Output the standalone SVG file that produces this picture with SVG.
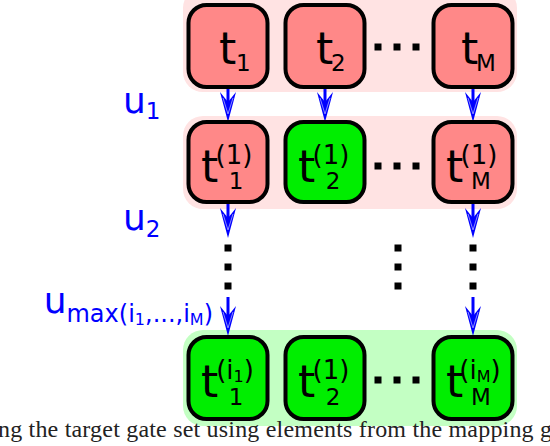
<svg xmlns="http://www.w3.org/2000/svg" xmlns:xlink="http://www.w3.org/1999/xlink" width="550" height="446" viewBox="0 0 550 446">
<style>
.bgp{fill:#ffe3e3}
.bgg{fill:#c3ffc3}
.nd{stroke:#000;stroke-width:4}
.red{fill:#ff8888}
.grn{fill:#00ee00}
.tx{font-family:"DejaVu Sans",sans-serif;fill:#000}
.t{font-size:44px}
.sp{font-size:26px;text-anchor:middle}
.sb{font-size:23px}
.lb{font-family:"DejaVu Sans",sans-serif;fill:#0000ff}
.sh{stroke:#0000ff;stroke-width:3;fill:none}
.dot{fill:#000}
</style>
<defs>
<g id="ah">
<path d="M0,0 L-8,-30 L0,-20 L8,-30 Z" fill="#0000ff"/>
<path d="M-5,-24 L0,-8 L5,-24" fill="none" stroke="#8888ff" stroke-width="1"/>
</g>
</defs>
<rect class="bgp" x="183" y="-12" width="334" height="104" rx="20"/>
<rect class="bgp" x="183" y="116" width="334" height="93" rx="20"/>
<rect class="bgg" x="183" y="330" width="334" height="96" rx="20"/>
<g id="connectors">
<line class="sh" x1="228" y1="87" x2="228" y2="103"/><use xlink:href="#ah" x="228" y="122"/>
<line class="sh" x1="325" y1="87" x2="325" y2="103"/><use xlink:href="#ah" x="325" y="122"/>
<line class="sh" x1="473" y1="87" x2="473" y2="103"/><use xlink:href="#ah" x="473" y="122"/>
<line class="sh" x1="228" y1="202" x2="228" y2="219"/><use xlink:href="#ah" x="228" y="238"/>
<line class="sh" x1="473" y1="202" x2="473" y2="219"/><use xlink:href="#ah" x="473" y="238"/>
<line class="sh" x1="228" y1="297" x2="228" y2="317"/><use xlink:href="#ah" x="228" y="336"/>
<line class="sh" x1="473" y1="297" x2="473" y2="317"/><use xlink:href="#ah" x="473" y="336"/>
</g>
<g id="n11"><rect class="nd red" x="188.5" y="5" width="79" height="82" rx="18"/>
<text class="tx t" x="219" y="64">t</text><text class="tx sb" x="236" y="71">1</text></g>
<g id="n12"><rect class="nd red" x="285.5" y="5" width="79" height="82" rx="18"/>
<text class="tx t" x="316" y="64">t</text><text class="tx sb" x="331" y="71">2</text></g>
<g id="n1M"><rect class="nd red" x="433.5" y="5" width="79" height="82" rx="18"/>
<text class="tx t" x="461" y="64">t</text><text class="tx sb" x="476" y="71">M</text></g>
<g id="dots1"><rect class="dot" x="374.5" y="43.5" width="7" height="7"/><rect class="dot" x="393.5" y="43.5" width="7" height="7"/><rect class="dot" x="412.5" y="43.5" width="7" height="7"/></g>
<g id="n21"><rect class="nd red" x="188.5" y="122" width="79" height="80" rx="18"/>
<text class="tx t" x="201" y="182">t</text>
<text class="tx sp" x="234" y="164">(1)</text>
<text class="tx sb" x="236" y="189" text-anchor="middle">1</text></g>
<g id="n22"><rect class="nd grn" x="285.5" y="122" width="79" height="80" rx="18"/>
<text class="tx t" x="298" y="182">t</text>
<text class="tx sp" x="331" y="164">(1)</text>
<text class="tx sb" x="333" y="189" text-anchor="middle">2</text></g>
<g id="n2M"><rect class="nd red" x="433.5" y="122" width="79" height="80" rx="18"/>
<text class="tx t" x="446" y="182">t</text>
<text class="tx sp" x="479" y="164">(1)</text>
<text class="tx sb" x="481" y="189" text-anchor="middle">M</text></g>
<g id="dots2"><rect class="dot" x="374.5" y="162.5" width="7" height="7"/><rect class="dot" x="393.5" y="162.5" width="7" height="7"/><rect class="dot" x="412.5" y="162.5" width="7" height="7"/></g>
<g id="vdots">
<rect class="dot" x="224.5" y="244.5" width="7" height="7"/><rect class="dot" x="224.5" y="263.5" width="7" height="7"/><rect class="dot" x="224.5" y="282.5" width="7" height="7"/>
<rect class="dot" x="394.5" y="244.5" width="7" height="7"/><rect class="dot" x="394.5" y="263.5" width="7" height="7"/><rect class="dot" x="394.5" y="282.5" width="7" height="7"/>
<rect class="dot" x="469.5" y="244.5" width="7" height="7"/><rect class="dot" x="469.5" y="263.5" width="7" height="7"/><rect class="dot" x="469.5" y="282.5" width="7" height="7"/>
</g>
<g id="n31"><rect class="nd grn" x="188.5" y="337" width="79" height="82" rx="18"/>
<text class="tx t" x="201" y="397">t</text>
<text class="tx sp" x="235" y="379">(i<tspan font-size="16" dy="3">1</tspan><tspan dy="-3">)</tspan></text>
<text class="tx sb" x="236" y="405" text-anchor="middle">1</text></g>
<g id="n32"><rect class="nd grn" x="285.5" y="337" width="79" height="82" rx="18"/>
<text class="tx t" x="298" y="397">t</text>
<text class="tx sp" x="331" y="379">(1)</text>
<text class="tx sb" x="333" y="405" text-anchor="middle">2</text></g>
<g id="n3M"><rect class="nd grn" x="433.5" y="337" width="79" height="82" rx="18"/>
<text class="tx t" x="446" y="397">t</text>
<text class="tx sp" x="480" y="379">(i<tspan font-size="16" dy="3">M</tspan><tspan dy="-3">)</tspan></text>
<text class="tx sb" x="481" y="405" text-anchor="middle">M</text></g>
<g id="dots3"><rect class="dot" x="374.5" y="376.5" width="7" height="7"/><rect class="dot" x="393.5" y="376.5" width="7" height="7"/><rect class="dot" x="412.5" y="376.5" width="7" height="7"/></g>
<g id="labels">
<text class="lb" x="123" y="113" font-size="36">u<tspan font-size="23" dy="6">1</tspan></text>
<text class="lb" x="123" y="230" font-size="36">u<tspan font-size="23" dy="7">2</tspan></text>
<text class="lb" x="213" y="313" font-size="36" text-anchor="end">u<tspan font-size="24" dy="9">max(i</tspan><tspan font-size="16" dy="3">1</tspan><tspan font-size="24" dy="-3">,...,i</tspan><tspan font-size="16" dy="3">M</tspan><tspan font-size="24" dy="-3">)</tspan></text>
</g>
<text x="-2" y="437" font-family="Liberation Serif,serif" font-size="24" fill="#222" textLength="554" lengthAdjust="spacing">ng the target gate set using elements from the mapping g</text>
</svg>
